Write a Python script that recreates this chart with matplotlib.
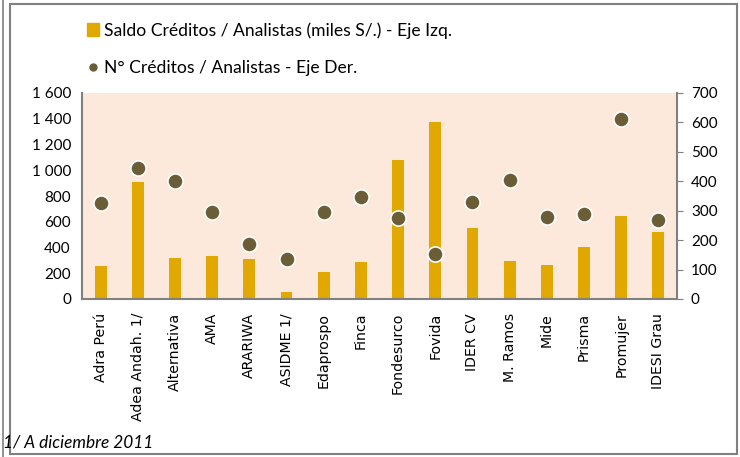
import matplotlib.pyplot as plt
import matplotlib.ticker as mticker
from matplotlib.patches import Rectangle, Patch
from matplotlib.lines import Line2D
import numpy as np

plt.rcParams['font.family'] = ['Lato', 'DejaVu Sans']

# datos
entidades = ['Adra Perú', 'Adea Andah. 1/', 'Alternativa', 'AMA', 'ARARIWA', 'ASIDME 1/',
             'Edaprospo', 'Finca', 'Fondesurco', 'Fovida', 'IDER CV', 'M. Ramos',
             'Mide', 'Prisma', 'Promujer', 'IDESI Grau']
saldo = [260, 905, 318, 331, 313, 57, 210, 287, 1079, 1374, 551, 293, 264, 406, 644, 520]
n_creditos = [327, 446, 400, 296, 188, 137, 295, 345, 274, 153, 328, 405, 280, 288, 612, 270]

color_barra = '#E0A800'
color_punto = '#6B5E36'
gris = '#808080'

fig = plt.figure(figsize=(7.40, 4.57), dpi=100)
ax = fig.add_axes([82/740, 1-299/457, (677-82)/740, (299-93)/457])
ax.set_facecolor('#FCE9DC')

x = np.arange(len(entidades))
ax.bar(x, saldo, width=0.32, color=color_barra, zorder=2)
ax.set_xlim(-0.5, len(entidades)-0.5)
ax.set_ylim(0, 1600)
ax.yaxis.set_major_locator(mticker.MultipleLocator(200))
ax.yaxis.set_major_formatter(mticker.FuncFormatter(lambda v, p: f'{int(v):,}'.replace(',', ' ')))
ax.set_xticks(x)
ax.set_xticklabels(entidades, rotation=90, fontsize=10.2, family='DejaVu Sans')
ax.tick_params(axis='x', length=0, pad=10)
ax.tick_params(axis='y', length=0, labelsize=11, pad=8)

ax2 = ax.twinx()
ax2.scatter(x, n_creditos, s=120, color=color_punto, edgecolors='white', linewidths=1.2, zorder=3)
ax2.set_ylim(0, 700)
ax2.yaxis.set_major_locator(mticker.MultipleLocator(100))
ax2.tick_params(axis='y', length=4, color=gris, labelsize=11, pad=6)

for a in (ax, ax2):
    a.spines['top'].set_visible(False)
    for s in ('left', 'right', 'bottom'):
        a.spines[s].set_color(gris)
        a.spines[s].set_linewidth(1.5)
ax.spines['right'].set_visible(False)
ax2.spines['left'].set_visible(False)
ax2.spines['bottom'].set_visible(False)

handles = [Patch(color=color_barra),
           Line2D([], [], marker='o', linestyle='none', color=color_punto, markersize=5)]
fig.legend(handles, ['Saldo Créditos / Analistas (miles S/.) - Eje Izq.',
                     'N° Créditos / Analistas - Eje Der.'],
           loc='upper left', bbox_to_anchor=(80/740, 1-15/457), frameon=False,
           fontsize=12.6, handlelength=0.7, handleheight=0.7, handletextpad=0.25,
           labelspacing=1.25, borderaxespad=0)

fig.text(3/740, 1-443/457, '1/ A diciembre 2011', style='italic', fontsize=12.4, va='center')

# marco exterior
fig.add_artist(Rectangle((10/740, 3/457), 727/740, 450/457, transform=fig.transFigure,
                         fill=False, edgecolor=gris, linewidth=1.5))
fig.add_artist(Line2D([3/740, 3/740], [0, 1], transform=fig.transFigure, color=gris, linewidth=1.2))

fig.savefig('out.png', dpi=100)
